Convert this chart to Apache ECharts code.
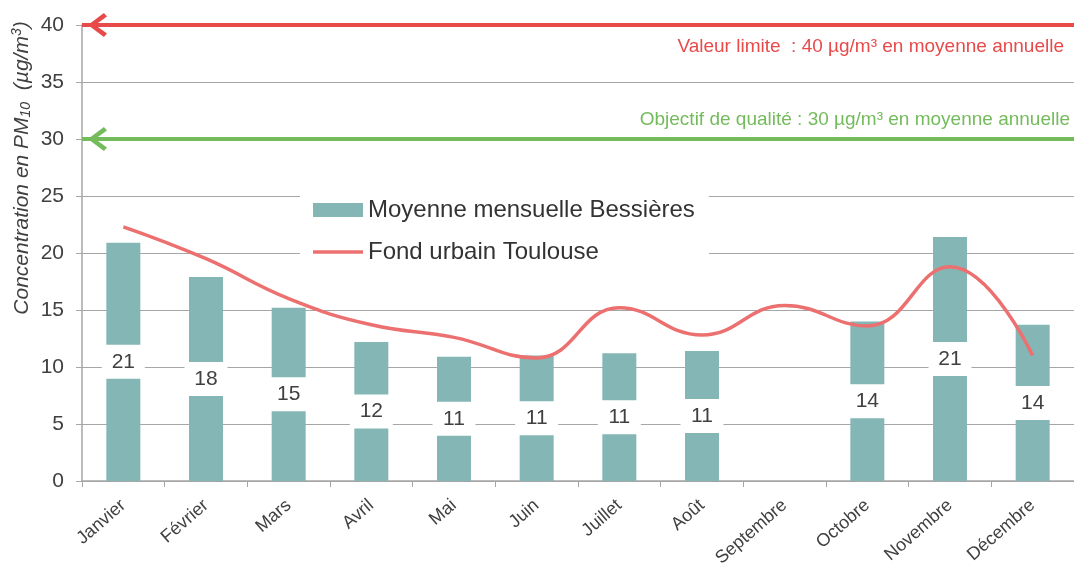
<!DOCTYPE html>
<html>
<head>
<meta charset="utf-8">
<script src="https://cdn.jsdelivr.net/npm/echarts@6/dist/echarts.min.js"></script>
<style>
  html, body { margin: 0; padding: 0; background: #fff; }
  #chart { width: 1074px; height: 565px; }
</style>
</head>
<body>
<div id="chart"></div>
<script>
var FONT = "'Liberation Sans', Arial, sans-serif";

// mois
var months = ['Janvier', 'Février', 'Mars', 'Avril', 'Mai', 'Juin', 'Juillet', 'Août',
  'Septembre', 'Octobre', 'Novembre', 'Décembre'];
// moyenne mensuelle Bessières (pas de mesure en septembre)
var bessieres = [20.9, 17.9, 15.2, 12.2, 10.9, 11.0, 11.2, 11.4, null, 14.0, 21.4, 13.7];
// fond urbain Toulouse
var toulouse = [22.3, 19.5, 16.0, 13.7, 12.6, 10.8, 15.2, 12.8, 15.4, 13.6, 18.8, 11.0];
// seuils réglementaires
var valeurLimite = 40;
var objectifQualite = 30;
var yTicks = { min: 0, max: 40, interval: 5 };

// chevron pointe en haut + point invisible pour decaler le centre
var chevron = 'path://M10,0 L20,15.5 L17,18.5 L10,7 L3,18.5 L0,15.5 Z M10,-30 L10.01,-30 L10,-29.99 Z';
var lineIcon = 'path://M0,0 L50,0 L50,3.5 L0,3.5 Z';

var chart = echarts.init(document.getElementById('chart'), null, { renderer: 'canvas' });

var option = {
  animation: false,
  backgroundColor: '#fff',
  textStyle: { fontFamily: FONT },
  grid: { left: 82, right: 0, top: 25, bottom: 84, outerBoundsMode: 'none', containLabel: false },
  legend: {
    left: 300,
    top: 192,
    orient: 'vertical',
    backgroundColor: '#fff',
    padding: [6, 14, 6, 13],
    itemWidth: 50,
    itemHeight: 14,
    itemGap: 18,
    symbolKeepAspect: true,
    textStyle: { fontSize: 24, color: '#333', fontFamily: FONT },
    data: [
      { name: 'Moyenne mensuelle Bessières', icon: 'rect' },
      { name: 'Fond urbain Toulouse', icon: lineIcon }
    ]
  },
  xAxis: {
    type: 'category',
    data: months,
    axisLine: { lineStyle: { color: '#a6a6a6', width: 1.5 } },
    axisTick: { show: true, length: 6, lineStyle: { color: '#a6a6a6' } },
    axisLabel: {
      rotate: 41, interval: 0, margin: 22,
      fontSize: 18, color: '#404040', fontFamily: FONT
    }
  },
  yAxis: {
    type: 'value',
    min: yTicks.min, max: yTicks.max, interval: yTicks.interval,
    axisLine: { show: true, lineStyle: { color: '#a6a6a6', width: 1.5 } },
    axisTick: { show: true, length: 6, lineStyle: { color: '#a6a6a6' } },
    axisLabel: { margin: 18, fontSize: 21, color: '#404040', fontFamily: FONT },
    splitLine: { lineStyle: { color: '#a6a6a6', width: 1 } }
  },
  graphic: [{
    type: 'text',
    x: 22, y: 168,
    rotation: Math.PI / 2,
    style: {
      text: '{i|Concentration en PM}{sub|10}{i|  (µg/m}{sup|3}{i|)}',
      align: 'center',
      verticalAlign: 'middle',
      fill: '#404040',
      rich: {
        i: { fontSize: 21, fontStyle: 'italic', fontFamily: FONT, fill: '#404040' },
        sub: { fontSize: 14, fontStyle: 'italic', fontFamily: FONT, fill: '#404040', padding: [9, 0, 0, 0] },
        sup: { fontSize: 14, fontStyle: 'italic', fontFamily: FONT, fill: '#404040', padding: [0, 0, 9, 0] }
      }
    }
  }],
  series: [{
    name: 'Moyenne mensuelle Bessières',
    type: 'bar',
    data: bessieres,
    barWidth: 34,
    itemStyle: { color: '#84b6b6' },
    label: {
      show: true,
      position: 'inside',
      formatter: function (p) { return Math.round(p.value); },
      backgroundColor: '#fff',
      padding: [7, 5, 6, 5],
      width: 33,
      align: 'center',
      fontSize: 21,
      color: '#404040',
      fontFamily: FONT
    },
    markLine: {
      silent: true,
      symbol: [chevron, 'none'],
      symbolSize: [24, 50],
      data: [{
        yAxis: valeurLimite,
        lineStyle: { color: '#e84a4a', width: 4, type: 'solid' },
        itemStyle: { color: '#e84a4a' },
        label: {
          show: true, position: 'insideEndBottom',
          formatter: 'Valeur limite  : 40 µg/m³ en moyenne annuelle',
          color: '#e84a4a', fontSize: 19, fontFamily: FONT,
          distance: [10, 12]
        }
      }, {
        yAxis: objectifQualite,
        lineStyle: { color: '#74bb5c', width: 4, type: 'solid' },
        itemStyle: { color: '#74bb5c' },
        label: {
          show: true, position: 'insideEndTop',
          formatter: 'Objectif de qualité : 30 µg/m³ en moyenne annuelle',
          color: '#74bb5c', fontSize: 19, fontFamily: FONT,
          distance: [4, 10]
        }
      }]
    },
    z: 2
  }, {
    name: 'Fond urbain Toulouse',
    type: 'line',
    data: toulouse,
    smooth: 0.45,
    symbol: 'none',
    lineStyle: { color: '#ec7070', width: 3.5 },
    itemStyle: { color: '#ec7070' },
    z: 3
  }]
};

chart.setOption(option);
</script>
</body>
</html>
